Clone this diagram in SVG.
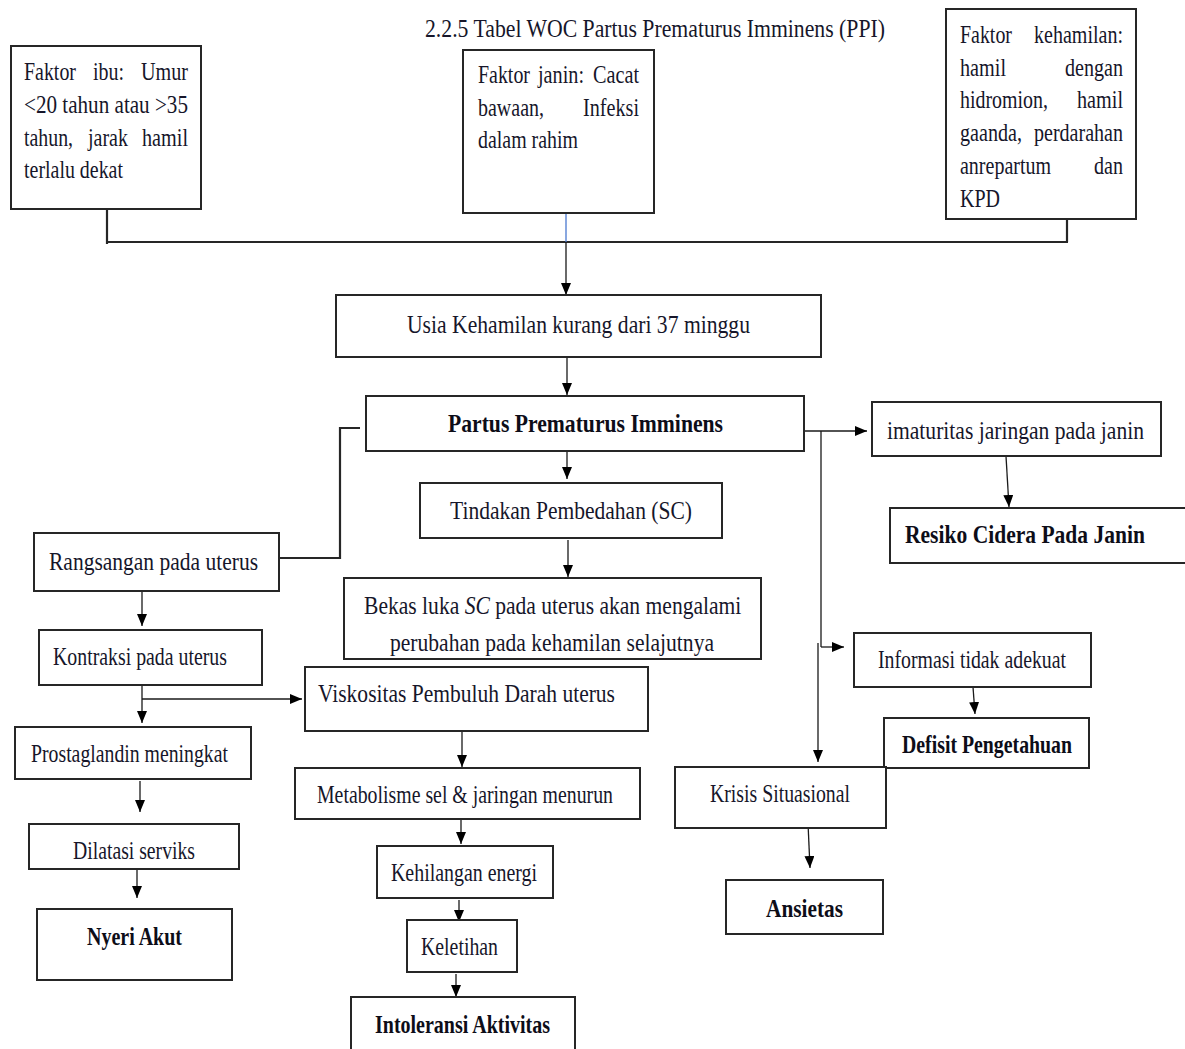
<svg xmlns="http://www.w3.org/2000/svg" width="1185" height="1049" viewBox="0 0 1185 1049">
<defs>
<style>
.b{fill:#fff;stroke:#262626;stroke-width:2}
.t{font-family:"Liberation Serif","Times New Roman",serif;font-size:25px;fill:#16162a}
.tb{font-family:"Liberation Serif","Times New Roman",serif;font-size:25px;font-weight:bold;fill:#0d0d18}
.big{font-size:26px}
.e{text-anchor:end}
.l{fill:none;stroke:#1a1a1a;stroke-width:1.3}
.la{fill:none;stroke:#1a1a1a;stroke-width:1.3;marker-end:url(#ah)}
.lh{fill:none;stroke:#262626;stroke-width:2.2}
</style>
<marker id="ah" markerWidth="12" markerHeight="10" refX="12" refY="5" orient="auto" markerUnits="userSpaceOnUse">
<path d="M0,0 L12,5 L0,10 z" fill="#000"/>
</marker>
<clipPath id="clipBekas"><rect x="344" y="578" width="417" height="80"/></clipPath>
</defs>
<rect width="1185" height="1049" fill="#fff"/>

<text class="t" x="425" y="37" font-size="27" textLength="460" lengthAdjust="spacingAndGlyphs">2.2.5 Tabel WOC Partus Prematurus Imminens (PPI)</text>

<g id="connectors">
<path class="lh" d="M107,209 V244"/>
<path class="lh" d="M107,242 H1068"/>
<path class="lh" d="M1067,219 V242"/>
<path d="M566,213 V242" fill="none" stroke="#4a78d0" stroke-width="1.3"/>
<path class="la" d="M566,242 V295"/>
<path class="la" d="M567,357 V395"/>
<path class="la" d="M567,451 V479"/>
<path class="la" d="M568,540 V577"/>
<path class="lh" d="M279,558 H340 V428 H360"/>
<path class="la" d="M142,591 V626"/>
<path class="la" d="M142,685 V723"/>
<path class="la" d="M142,699 H302"/>
<path class="la" d="M140,781 V812"/>
<path class="la" d="M137,869 V898"/>
<path class="la" d="M462,731 V767"/>
<path class="la" d="M461,815 V844"/>
<path class="la" d="M459,900 V922"/>
<path class="la" d="M456,974 V997"/>
<path class="la" d="M801,431 H867"/>
<path class="l" d="M821,431 V647"/>
<path class="la" d="M821,647 H844"/>
<path class="la" d="M818,643 V762"/>
<path class="la" d="M1006,456 L1009,507"/>
<path class="la" d="M973,687 L975,714"/>
<path class="la" d="M808,823 L810,868"/>
</g>

<g id="n-ibu">
<rect class="b" x="11" y="46" width="190" height="163"/>
<text class="t" x="24" y="80" textLength="52" lengthAdjust="spacingAndGlyphs">Faktor</text>
<text class="t" x="93" y="80" textLength="31" lengthAdjust="spacingAndGlyphs">ibu:</text>
<text class="t" x="141" y="80" textLength="47" lengthAdjust="spacingAndGlyphs">Umur</text>
<text class="t" x="24" y="113" textLength="164" lengthAdjust="spacingAndGlyphs">&lt;20 tahun atau &gt;35</text>
<text class="t" x="24" y="146" textLength="49" lengthAdjust="spacingAndGlyphs">tahun,</text>
<text class="t" x="88" y="146" textLength="40" lengthAdjust="spacingAndGlyphs">jarak</text>
<text class="t" x="142" y="146" textLength="46" lengthAdjust="spacingAndGlyphs">hamil</text>
<text class="t" x="24" y="178" textLength="99" lengthAdjust="spacingAndGlyphs">terlalu dekat</text>
</g>

<g id="n-janin">
<rect class="b" x="463" y="50" width="191" height="163"/>
<text class="t" x="478" y="83" textLength="52" lengthAdjust="spacingAndGlyphs">Faktor</text>
<text class="t" x="538" y="83" textLength="46" lengthAdjust="spacingAndGlyphs">janin:</text>
<text class="t" x="593" y="83" textLength="46" lengthAdjust="spacingAndGlyphs">Cacat</text>
<text class="t" x="478" y="116" textLength="66" lengthAdjust="spacingAndGlyphs">bawaan,</text>
<text class="t" x="583" y="116" textLength="56" lengthAdjust="spacingAndGlyphs">Infeksi</text>
<text class="t" x="478" y="148" textLength="100" lengthAdjust="spacingAndGlyphs">dalam rahim</text>
</g>

<g id="n-kehamilan">
<rect class="b" x="946" y="9" width="190" height="210"/>
<text class="t" x="960" y="43" textLength="52" lengthAdjust="spacingAndGlyphs">Faktor</text>
<text class="t" x="1034" y="43" textLength="89" lengthAdjust="spacingAndGlyphs">kehamilan:</text>
<text class="t" x="960" y="76" textLength="46" lengthAdjust="spacingAndGlyphs">hamil</text>
<text class="t" x="1065" y="76" textLength="58" lengthAdjust="spacingAndGlyphs">dengan</text>
<text class="t" x="960" y="108" textLength="88" lengthAdjust="spacingAndGlyphs">hidromion,</text>
<text class="t" x="1077" y="108" textLength="46" lengthAdjust="spacingAndGlyphs">hamil</text>
<text class="t" x="960" y="141" textLength="62" lengthAdjust="spacingAndGlyphs">gaanda,</text>
<text class="t" x="1034" y="141" textLength="89" lengthAdjust="spacingAndGlyphs">perdarahan</text>
<text class="t" x="960" y="174" textLength="91" lengthAdjust="spacingAndGlyphs">anrepartum</text>
<text class="t" x="1094" y="174" textLength="29" lengthAdjust="spacingAndGlyphs">dan</text>
<text class="t" x="960" y="207" textLength="40" lengthAdjust="spacingAndGlyphs">KPD</text>
</g>

<g id="n-usia">
<rect class="b" x="336" y="295" width="485" height="62"/>
<text class="t big" x="407" y="333" textLength="343" lengthAdjust="spacingAndGlyphs">Usia Kehamilan kurang dari 37 minggu</text>
</g>

<g id="n-ppi">
<rect class="b" x="366" y="396" width="438" height="55"/>
<text class="tb big" x="448" y="432" textLength="275" lengthAdjust="spacingAndGlyphs">Partus Prematurus Imminens</text>
</g>

<g id="n-tindakan">
<rect class="b" x="420" y="483" width="302" height="55"/>
<text class="t big" x="450" y="519" textLength="242" lengthAdjust="spacingAndGlyphs">Tindakan Pembedahan (SC)</text>
</g>

<g id="n-bekas">
<rect class="b" x="344" y="578" width="417" height="81"/>
<text class="t" transform="translate(364,614) scale(0.863,1)">Bekas luka <tspan font-style="italic">SC</tspan> pada uterus akan mengalami</text>
<text class="t" x="390" y="651" textLength="324" lengthAdjust="spacingAndGlyphs" clip-path="url(#clipBekas)">perubahan pada kehamilan selajutnya</text>
</g>

<g id="n-rangsangan">
<rect class="b" x="34" y="533" width="245" height="58"/>
<text class="t" x="49" y="570" textLength="209" lengthAdjust="spacingAndGlyphs">Rangsangan pada uterus</text>
</g>

<g id="n-kontraksi">
<rect class="b" x="39" y="630" width="223" height="55"/>
<text class="t" x="53" y="665" textLength="174" lengthAdjust="spacingAndGlyphs">Kontraksi pada uterus</text>
</g>

<g id="n-viskositas">
<rect class="b" x="305" y="667" width="343" height="64"/>
<text class="t" x="318" y="702" textLength="297" lengthAdjust="spacingAndGlyphs">Viskositas Pembuluh Darah uterus</text>
</g>

<g id="n-prostaglandin">
<rect class="b" x="15" y="727" width="236" height="52"/>
<text class="t" x="31" y="762" textLength="197" lengthAdjust="spacingAndGlyphs">Prostaglandin meningkat</text>
</g>

<g id="n-dilatasi">
<rect class="b" x="29" y="824" width="210" height="45"/>
<text class="t" x="73" y="859" textLength="122" lengthAdjust="spacingAndGlyphs">Dilatasi serviks</text>
</g>

<g id="n-nyeri">
<rect class="b" x="37" y="909" width="195" height="71"/>
<text class="tb" x="87" y="945" textLength="95" lengthAdjust="spacingAndGlyphs">Nyeri Akut</text>
</g>

<g id="n-metabolisme">
<rect class="b" x="295" y="768" width="345" height="51"/>
<text class="t" x="317" y="803" textLength="296" lengthAdjust="spacingAndGlyphs">Metabolisme sel &amp; jaringan menurun</text>
</g>

<g id="n-kehilangan">
<rect class="b" x="377" y="846" width="176" height="52"/>
<text class="t" x="391" y="881" textLength="146" lengthAdjust="spacingAndGlyphs">Kehilangan energi</text>
</g>

<g id="n-keletihan">
<rect class="b" x="407" y="920" width="110" height="52"/>
<text class="t" x="421" y="955" textLength="77" lengthAdjust="spacingAndGlyphs">Keletihan</text>
</g>

<g id="n-intoleransi">
<rect class="b" x="351" y="997" width="224" height="70"/>
<text class="tb" x="375" y="1033" textLength="175" lengthAdjust="spacingAndGlyphs">Intoleransi Aktivitas</text>
</g>

<g id="n-imaturitas">
<rect class="b" x="872" y="402" width="289" height="54"/>
<text class="t" x="887" y="439" textLength="257" lengthAdjust="spacingAndGlyphs">imaturitas jaringan pada janin</text>
</g>

<g id="n-resiko">
<rect class="b" x="890" y="508" width="310" height="55"/>
<text class="tb" x="905" y="543" textLength="240" lengthAdjust="spacingAndGlyphs">Resiko Cidera Pada Janin</text>
</g>

<g id="n-informasi">
<rect class="b" x="854" y="633" width="237" height="54"/>
<text class="t" x="878" y="668" textLength="188" lengthAdjust="spacingAndGlyphs">Informasi tidak adekuat</text>
</g>

<g id="n-defisit">
<rect class="b" x="884" y="718" width="205" height="50"/>
<text class="tb" x="902" y="753" textLength="170" lengthAdjust="spacingAndGlyphs">Defisit Pengetahuan</text>
</g>

<g id="n-krisis">
<rect class="b" x="675" y="767" width="211" height="61"/>
<text class="t" x="710" y="802" textLength="140" lengthAdjust="spacingAndGlyphs">Krisis Situasional</text>
</g>

<g id="n-ansietas">
<rect class="b" x="726" y="880" width="157" height="54"/>
<text class="tb" x="766" y="917" textLength="77" lengthAdjust="spacingAndGlyphs">Ansietas</text>
</g>
</svg>
